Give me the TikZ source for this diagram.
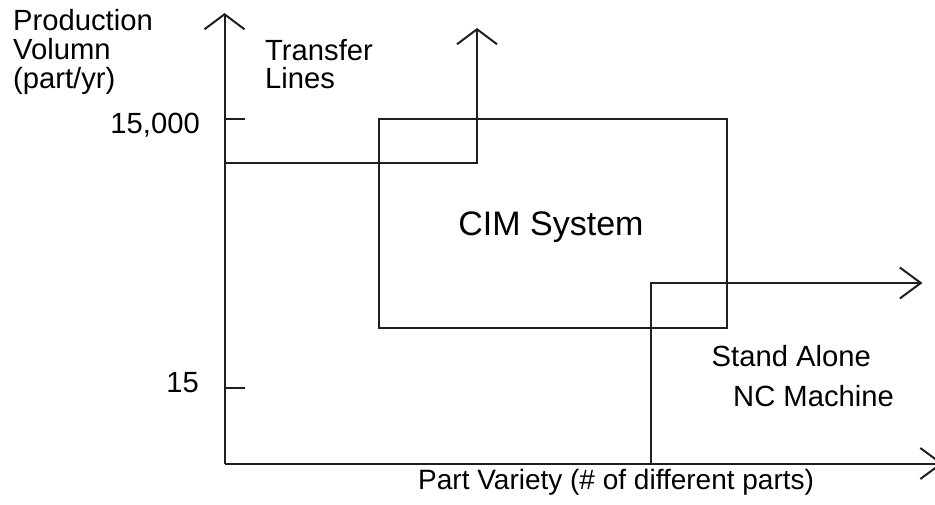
\documentclass[tikz,border=0pt]{standalone}
\usepackage{fontspec}
\setmainfont{Liberation Sans}
\usetikzlibrary{arrows.meta}
\tikzset{
  ln/.style={line width=2pt, draw=black!88},
  uparrow/.style={ln, -{Straight Barb[length=15pt,width=40pt,line width=2pt]}},
  rtarrow/.style={ln, -{Straight Barb[length=21pt,width=31pt,line width=2pt]}},
  lbl/.style={inner sep=0pt, font=\fontsize{29.2}{29}\selectfont, align=left, text=black},
  axl/.style={inner sep=0pt, font=\fontsize{28}{29}\selectfont, text=black},
  big/.style={inner sep=0pt, font=\fontsize{34}{36}\selectfont, text=black}
}
\begin{document}
\begin{tikzpicture}[x=1pt,y=-1pt]
\useasboundingbox (0,0) rectangle (935,504);
% coordinates
\coordinate (O) at (224.5,463.5);
\coordinate (ytip) at (224.5,13);
\coordinate (xtip) at (943,463.5);
\coordinate (tlstart) at (224.5,163);
\coordinate (tltip) at (477,28);
\coordinate (ncstart) at (651,463.5);
\coordinate (nctip) at (922.5,283);
\coordinate (t1a) at (224.5,119);
\coordinate (t1b) at (245,119);
\coordinate (t2a) at (224.5,388);
\coordinate (t2b) at (245,388);
\coordinate (cimA) at (379,118.5);
\coordinate (cimB) at (727,327.5);
% axes
\draw[uparrow] (O) -- (ytip);
\draw[rtarrow] (O) -- (xtip);
% ticks
\draw[ln] (t1a) -- (t1b);
\draw[ln] (t2a) -- (t2b);
% CIM system box
\draw[ln] (cimA) rectangle (cimB);
% transfer lines
\draw[uparrow] (tlstart) -| (tltip);
% NC machine
\draw[rtarrow] (ncstart) |- (nctip);
% labels
\node[lbl, anchor=base west] (l1) at (13,30) {Production};
\node[lbl, anchor=base west] (l2) at (13,59) {Volumn};
\node[lbl, anchor=base west] (l3) at (13,88) {(part/yr)};
\node[lbl, anchor=base east] (v1) at (200,133) {15,000};
\node[lbl, anchor=base east] (v2) at (199,392.5) {15};
\node[lbl, anchor=base west] (tl1) at (265,60.5) {Transfer};
\node[lbl, anchor=base west] (tl2) at (265,88.5) {Lines};
\node[big, anchor=base] (cim) at (551,235) {CIM System};
\node[lbl, anchor=base west] (nc1) at (711.5,366.5) {Stand Alone};
\node[lbl, anchor=base west] (nc2) at (733,406) {NC Machine};
\node[axl, anchor=base west] (xl) at (418,489.5) {Part Variety (\# of different parts)};
\end{tikzpicture}
\end{document}
